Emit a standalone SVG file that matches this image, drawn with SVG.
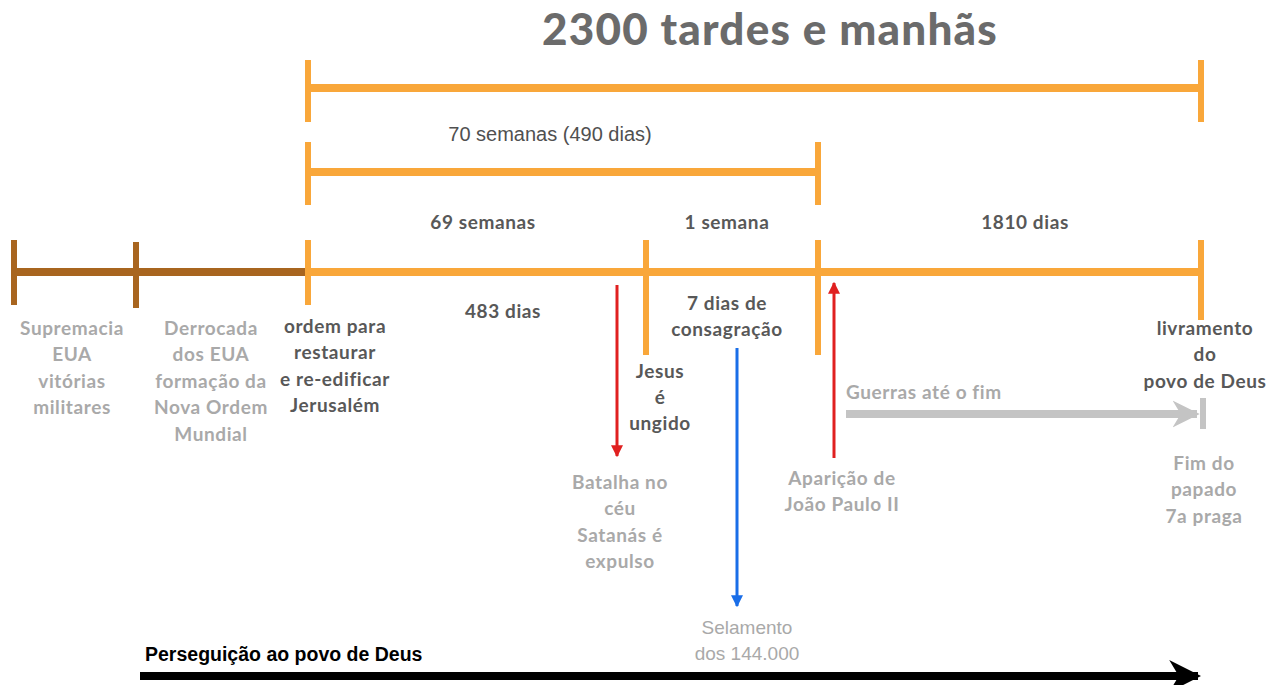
<svg xmlns="http://www.w3.org/2000/svg" width="1278" height="685" viewBox="0 0 1278 685">
<style>
text{font-family:"Lato","Liberation Sans",sans-serif;font-size:19px;letter-spacing:0.6px;text-anchor:middle}
.dk{fill:#585858;font-weight:bold}
.lt{fill:#a9a9a9;font-weight:bold}
.org{stroke:#f9a73a;fill:none}
.brn{stroke:#a8651f;fill:none}
.cond{font-family:"Liberation Sans Narrow","Liberation Sans",sans-serif;letter-spacing:0}
</style>
<defs>
<marker id="ar" viewBox="0 0 10 10" refX="9" refY="5" markerWidth="4" markerHeight="4" orient="auto"><path d="M0,0L10,5L0,10z" fill="#e02020"/></marker>
<marker id="ab" viewBox="0 0 10 10" refX="9" refY="5" markerWidth="4" markerHeight="4" orient="auto"><path d="M0,0L10,5L0,10z" fill="#1a6ee8"/></marker>
<marker id="ag" viewBox="0 0 10 10" refX="9" refY="5" markerWidth="3.4" markerHeight="3.5" orient="auto"><path d="M0,0L10,5L0,10L3,5z" fill="#c4c4c4"/></marker>
<marker id="ak" viewBox="0 0 10 10" refX="9" refY="5" markerWidth="4" markerHeight="4.5" orient="auto"><path d="M0,0L10,5L0,10L3,5z" fill="#000"/></marker>
</defs>
<text id="title" x="770" y="45" style="font-size:44px;letter-spacing:1.2px;font-weight:900;fill:#6b6b6b">2300 tardes e manhãs</text>
<g id="bars">
<path class="org" stroke-width="8" d="M308,88H1201M308,172H818"/>
<path class="org" stroke-width="6" d="M308,60V122M1201,60V122M308,142V205M818,142V205"/>
<path class="brn" stroke-width="8" d="M14,272H308"/>
<path class="brn" stroke-width="6" d="M14,240V305M136,242V308"/>
<path class="org" stroke-width="8" d="M308,272H1201"/>
<path class="org" stroke-width="6" d="M308,240V305M646,240V355M818,240V355M1201,240V320"/>
</g>
<g id="labels">
<text x="550" y="141" class="cond" style="fill:#505050;font-size:20px">70 semanas (490 dias)</text>
<text x="483" y="229" class="dk">69 semanas</text>
<text x="727" y="229" class="dk">1 semana</text>
<text x="1025" y="229" class="dk">1810 dias</text>
<text x="503" y="318" class="dk">483 dias</text>
</g>
<g id="n-supremacia" class="lt"><text x="72" y="335">Supremacia</text><text x="72" y="361">EUA</text><text x="72" y="388">vitórias</text><text x="72" y="414">militares</text></g>
<g id="n-derrocada" class="lt"><text x="211" y="335">Derrocada</text><text x="211" y="361">dos EUA</text><text x="211" y="388">formação da</text><text x="211" y="414">Nova Ordem</text><text x="211" y="441">Mundial</text></g>
<g id="n-ordem" class="dk"><text x="335" y="333">ordem para</text><text x="335" y="359">restaurar</text><text x="335" y="386">e re-edificar</text><text x="335" y="412">Jerusalém</text></g>
<g id="n-7dias" class="dk"><text x="727" y="310">7 dias de</text><text x="727" y="336">consagração</text></g>
<g id="n-jesus" class="dk"><text x="660" y="378">Jesus</text><text x="660" y="404">é</text><text x="660" y="430">ungido</text></g>
<g id="n-batalha" class="lt"><text x="620" y="489">Batalha no</text><text x="620" y="515">céu</text><text x="620" y="542">Satanás é</text><text x="620" y="568">expulso</text></g>
<g id="n-aparicao" class="lt"><text x="842" y="485">Aparição de</text><text x="842" y="511">João Paulo II</text></g>
<g id="n-livramento" class="dk"><text x="1205" y="335">livramento</text><text x="1205" y="361">do</text><text x="1205" y="388">povo de Deus</text></g>
<g id="n-fim" class="lt"><text x="1204" y="470">Fim do</text><text x="1204" y="496">papado</text><text x="1204" y="523">7a praga</text></g>
<g id="n-guerras" class="lt"><text x="846" y="399" style="text-anchor:start">Guerras até o fim</text></g>
<g id="n-selamento"><text x="747" y="634" class="cond" style="fill:#a9a9a9">Selamento</text><text x="747" y="660" class="cond" style="fill:#a9a9a9">dos 144.000</text></g>
<g id="n-perseguicao"><text x="145" y="661" class="cond" style="text-anchor:start;font-weight:bold;fill:#000;font-size:19.5px">Perseguição ao povo de Deus</text></g>
<g id="connectors">
<line x1="617" y1="285" x2="617" y2="456" stroke="#e02020" stroke-width="3" marker-end="url(#ar)"/>
<line x1="834" y1="458" x2="834" y2="283" stroke="#e02020" stroke-width="3" marker-end="url(#ar)"/>
<line x1="737" y1="348" x2="737" y2="606" stroke="#1a6ee8" stroke-width="3" marker-end="url(#ab)"/>
<line x1="846" y1="414" x2="1197" y2="414" stroke="#c4c4c4" stroke-width="8" marker-end="url(#ag)"/>
<line x1="1203" y1="398" x2="1203" y2="429" stroke="#c4c4c4" stroke-width="6"/>
<line x1="140" y1="676" x2="1198" y2="676" stroke="#000" stroke-width="8" marker-end="url(#ak)"/>
</g>
</svg>
